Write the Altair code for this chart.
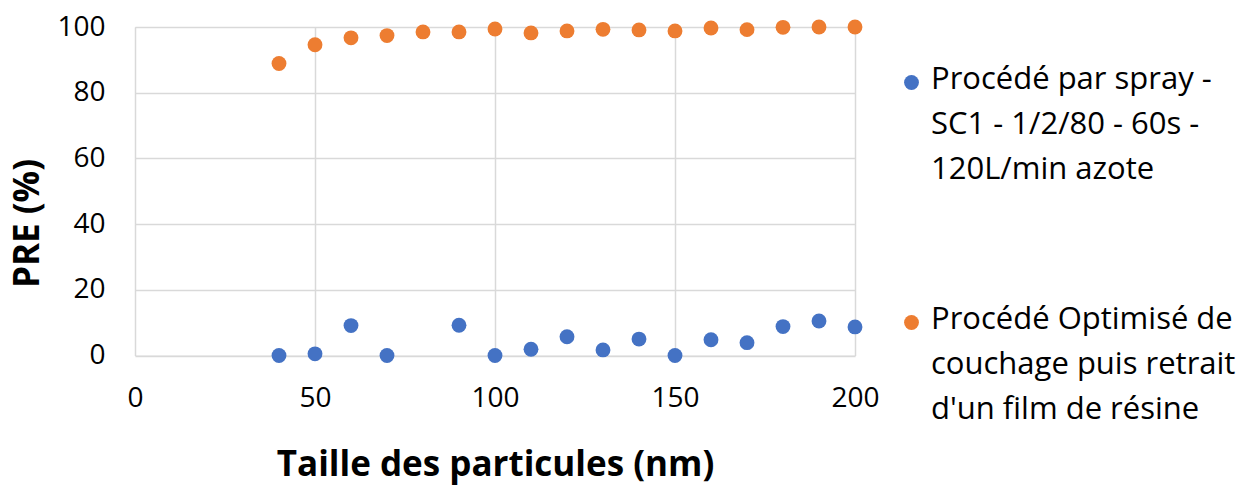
import altair as alt
import pandas as pd

x_vals = [40, 50, 60, 70, 80, 90, 100, 110, 120, 130, 140, 150, 160, 170, 180, 190, 200]
spray = [0, 0.5, 9.1, 0, None, 9.2, 0, 1.9, 5.7, 1.7, 5.0, 0, 4.8, 3.9, 8.8, 10.5, 8.7]
optim = [88.9, 94.6, 96.7, 97.4, 98.5, 98.5, 99.4, 98.2, 98.8, 99.3, 99.1, 98.8, 99.7, 99.2, 99.9, 100, 100]
s1 = "Procédé par spray -\nSC1 - 1/2/80 - 60s -\n120L/min azote"
s2 = "Procédé Optimisé de\ncouchage puis retrait\nd'un film de résine"
x_ticks = [0, 50, 100, 150, 200]
y_ticks = [0, 20, 40, 60, 80, 100]

rows = []
for xv, v in zip(x_vals, spray):
    if v is not None:
        rows.append({"x": xv, "y": v, "serie": s1})
for xv, v in zip(x_vals, optim):
    rows.append({"x": xv, "y": v, "serie": s2})
df = pd.DataFrame(rows)

FONT = "Open Sans"

chart = alt.Chart(df).mark_circle(size=220, opacity=1).encode(
    x=alt.X("x:Q", scale=alt.Scale(domain=[0, 200], nice=False),
            axis=alt.Axis(values=x_ticks, title="Taille des particules (nm)",
                          titleFontSize=35, titleFontWeight="bold", titleFont=FONT,
                          titleColor="black", titleY=120, titleBaseline="alphabetic",
                          labelFontSize=28, labelFont=FONT, labelColor="black",
                          labelPadding=23, labelFlush=False, ticks=False, domain=False,
                          gridColor="#D9D9D9", gridWidth=1.5)),
    y=alt.Y("y:Q", scale=alt.Scale(domain=[0, 100], nice=False),
            axis=alt.Axis(values=y_ticks, title="PRE (%)",
                          titleFontSize=35, titleFontWeight="bold", titleFont=FONT,
                          titleColor="black", titleX=-108, titleY=196,
                          titleBaseline="middle", titleAlign="center", titleAngle=270,
                          labelFontSize=28, labelFont=FONT, labelColor="black",
                          labelPadding=30, labelOffset=-6, labelFlush=False,
                          ticks=False, domain=False,
                          gridColor="#D9D9D9", gridWidth=1.5)),
    color=alt.Color("serie:N", scale=alt.Scale(domain=[s1, s2], range=["#4472C4", "#ED7D31"]),
                    legend=alt.Legend(title=None, orient="none", legendX=761, legendY=40,
                                      labelExpr="split(datum.label, '\\n')",
                                      labelFontSize=31, labelFont=FONT, labelColor="black",
                                      labelBaseline="alphabetic", labelLimit=0,
                                      symbolType="circle", symbolSize=220,
                                      symbolStrokeWidth=0,
                                      rowPadding=118, labelOffset=4)),
).properties(
    width=720, height=328.5,
    autosize=alt.AutoSizeParams(type="none"),
    padding={"left": 127, "top": 19, "right": 390, "bottom": 150},
).configure_view(stroke="#C8C8C8", strokeWidth=1.5).configure(
    style={"guide-label": {"lineHeight": 45, "dy": 6}}
)

chart.save("out.html", embed_options={"renderer": "svg", "actions": False})
